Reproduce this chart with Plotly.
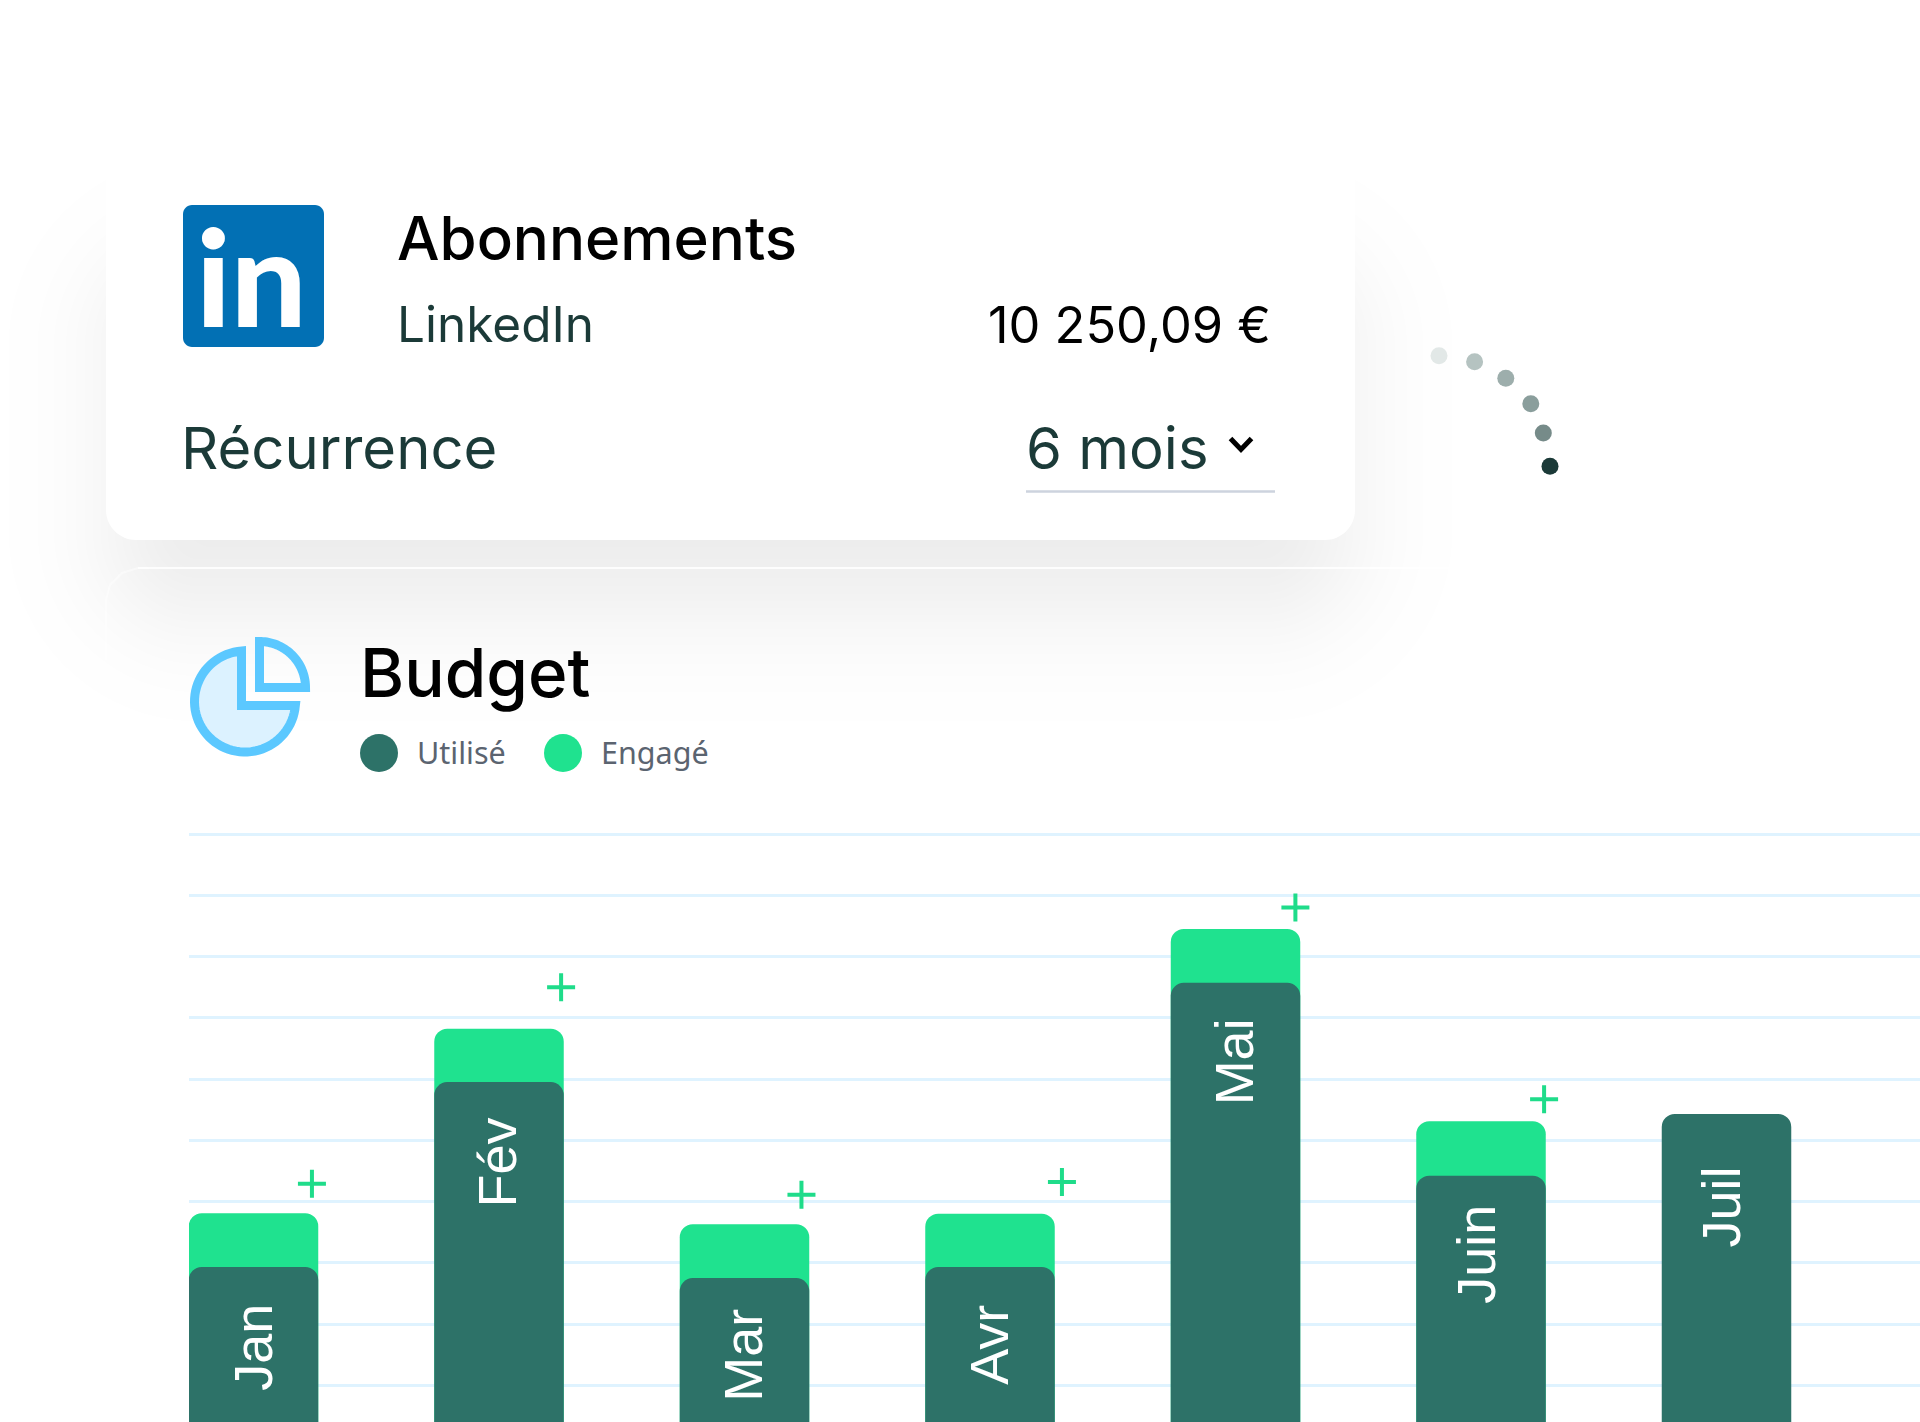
import math
from statistics import NormalDist
import plotly.graph_objects as go

W, H = 1920, 1422

# ---- chart data ----
months = ["Jan", "Fév", "Mar", "Avr", "Mai", "Juin", "Juil"]
month_index = [0, 1, 2, 3, 4, 5, 6]
utilise = [29.3, 59.5, 27.5, 29.3, 75.7, 44.2, 54.3]
engage_total = [38.1, 68.2, 36.3, 38.0, 84.5, 53.1, None]
plus_y = [42.9, 75.0, 41.1, 43.2, 88.0, 56.7]
plus_dx = [0.238, 0.253, 0.232, 0.293, 0.244, 0.257]
label_y = [16.2, 46.3, 14.9, 16.6, 62.8, 31.3, 39.1]
label_shift = [0, -2.5, -1, -1, -2, -5, -5]
legend_labels = ["Utilisé", "Engagé"]
dot_x = [1439, 1474.6, 1505.8, 1530.8, 1543.3, 1550]
dot_y = [355.7, 361.7, 378.3, 403.7, 433, 466.3]
dot_colors = ["#E2E8E7", "#B5C3C1", "#9DAEAC", "#8A9E9C", "#768B89", "#1B3A38"]

DARK, GREEN, GRID, INK = "#2D7268", "#1FE28F", "#DFF3FF", "#1B3A38"


def px(x):
    return x / W


def py(y):
    return 1 - y / H


def rrect(x0, y0, x1, y1, r):
    k = 0.45 * r
    return (
        f"M{px(x0+r)},{py(y0)} L{px(x1-r)},{py(y0)} "
        f"C{px(x1-k)},{py(y0)} {px(x1)},{py(y0+k)} {px(x1)},{py(y0+r)} "
        f"L{px(x1)},{py(y1-r)} "
        f"C{px(x1)},{py(y1-k)} {px(x1-k)},{py(y1)} {px(x1-r)},{py(y1)} "
        f"L{px(x0+r)},{py(y1)} "
        f"C{px(x0+k)},{py(y1)} {px(x0)},{py(y1-k)} {px(x0)},{py(y1-r)} "
        f"L{px(x0)},{py(y0+r)} "
        f"C{px(x0)},{py(y0+k)} {px(x0+k)},{py(y0)} {px(x0+r)},{py(y0)} Z"
    )


def poly(points, close=True):
    s = "M" + " L".join(f"{px(a)},{py(b)}" for a, b in points)
    return s + (" Z" if close else "")


def path(d, fill="rgba(0,0,0,0)", line=None, lw=0, layer="above"):
    return dict(type="path", path=d, xref="paper", yref="paper", fillcolor=fill,
                line=dict(color=line or "rgba(0,0,0,0)", width=lw), layer=layer)


def circle(cx, cy, r, fill):
    return dict(type="circle", xref="paper", yref="paper", x0=px(cx - r), x1=px(cx + r),
                y0=py(cy + r), y1=py(cy - r), fillcolor=fill, line=dict(width=0))


shapes = []
# soft shadow under the top card: stacked faint rounded rectangles
N = 20
nd = NormalDist(0, 56)
for i in range(N):
    d = nd.inv_cdf((N - i - 0.5) / N)
    shapes.append(path(rrect(118 - d, 265 - d, 1343 + d, 612 + d, max(30, 80 + d)),
                       fill="rgba(0,0,0,0.0042)", layer="below"))
# outline of the second card
shapes.append(path(poly([(106, 660), (106, 600), (110, 585), (122, 573), (138, 568)], close=False),
                   line="rgba(255,255,255,0.45)", lw=2, layer="below"))
shapes.append(path(poly([(138, 568), (1450, 568)], close=False),
                   line="rgba(255,255,255,0.85)", lw=2, layer="below"))
# top card
shapes.append(path(rrect(106, 150, 1355, 540, 30), fill="#FFFFFF", layer="below"))
# LinkedIn tile
shapes.append(path(rrect(183, 205, 324, 347, 9), fill="#0270B4"))
# dropdown
shapes.append(path(poly([(1026, 491.5), (1275, 491.5)], close=False), line="#CDD3DE", lw=2.5))
shapes.append(path(poly([(1230.5, 438.5), (1241, 449.5), (1251.5, 438.5)], close=False), line="#000000", lw=5))
# pie icon
cx, cy, r = 245, 701.5, 50.5
big = [(241.5, 705.5), (241.5, cy - math.sqrt(r * r - 3.5 ** 2))]
a0 = math.atan2(big[1][1] - cy, big[1][0] - cx)
a1 = math.atan2(705.5 - cy, math.sqrt(r * r - 16)) - 2 * math.pi
for i in range(1, 60):
    a = a0 + (a1 - a0) * i / 60
    big.append((cx + r * math.cos(a), cy + r * math.sin(a)))
big.append((cx + math.sqrt(r * r - 16), 705.5))
shapes.append(path(poly(big), fill="#DCF2FF", line="#5BC8FF", lw=9))
sx, sy, sr = 259.5, 687.5, 46
small = [(sx, sy), (sx, sy - sr)]
for i in range(1, 40):
    a = -math.pi / 2 + (math.pi / 2) * i / 40
    small.append((sx + sr * math.cos(a), sy + sr * math.sin(a)))
small.append((sx + sr, sy))
shapes.append(path(poly(small), fill="rgba(255,255,255,0.15)", line="#5BC8FF", lw=9))
# legend swatches
shapes.append(circle(379, 753, 19, DARK))
shapes.append(circle(563, 753, 19, GREEN))
# loader dots
for a, b, c in zip(dot_x, dot_y, dot_colors):
    shapes.append(circle(a, b, 8.5, c))


def txt(s, x, y, size, color, font="Inter", weight=400, anchor="left", angle=0):
    return dict(text=s, x=px(x), y=py(y), xref="paper", yref="paper", xanchor=anchor, yanchor="middle",
                showarrow=False, textangle=angle,
                font=dict(family=font, size=size, color=color, weight=weight))


annotations = [
    txt("in", 194, 276, 134, "#FFFFFF", "Lato", 900),
    txt("Abonnements", 395, 238, 60, "#000000", "Inter", 500),
    txt("LinkedIn", 395, 324, 49.5, INK),
    txt("10 250,09 €", 1273, 324, 50.5, "#000000", anchor="right"),
    txt("Récurrence", 179, 448, 58, INK),
    txt("6 mois", 1023.5, 448, 58, INK),
    txt("Budget", 358, 672, 67.3, "#000000", "Inter", 500),
    txt(legend_labels[0], 414.5, 752, 30.5, "#5B6470", "Noto Sans"),
    txt(legend_labels[1], 598.5, 752, 30.5, "#5B6470", "Noto Sans"),
]
for i, m in enumerate(months):
    annotations.append(dict(text=m, x=month_index[i], y=label_y[i], xref="x", yref="y", showarrow=False,
                            xshift=label_shift[i], textangle=-90,
                            font=dict(family="Liberation Sans", size=54, color="#FFFFFF")))

fig = go.Figure()
fig.add_bar(x=month_index, y=engage_total, name=legend_labels[1], width=0.5275,
            marker=dict(color=GREEN, cornerradius=13, line=dict(width=0)))
fig.add_scatter(x=[a + b for a, b in zip(month_index, plus_dx)], y=plus_y, mode="markers",
                marker=dict(symbol="cross-thin", size=20, color=GREEN, line=dict(color="#1FDC8A", width=4)))
fig.add_bar(x=month_index, y=utilise, name=legend_labels[0], width=0.5275, xaxis="x2", yaxis="y2",
            marker=dict(color=DARK, cornerradius=13, line=dict(width=0)))

xr = [(189 - 253.5) / 245.5, (W - 253.5) / 245.5]
yr = [4.0, 102.29]
dom_x, dom_y = [189 / W, 1], [0, (H - 820) / H]
fig.update_layout(
    width=W, height=H, margin=dict(l=0, r=0, t=0, b=0), barmode="overlay", showlegend=False,
    paper_bgcolor="#FFFFFF", plot_bgcolor="rgba(0,0,0,0)", hovermode=False,
    shapes=shapes, annotations=annotations,
    xaxis=dict(domain=dom_x, range=xr, visible=False),
    yaxis=dict(domain=dom_y, range=yr, tick0=0, dtick=10, showgrid=True,
               gridcolor=GRID, gridwidth=2.5, showticklabels=False, zeroline=False, ticks="", showline=False),
    xaxis2=dict(domain=dom_x, range=xr, visible=False, overlaying="x", anchor="y2"),
    yaxis2=dict(domain=dom_y, range=yr, visible=False, overlaying="y", anchor="x2"),
)
fig.write_html("out.html", config=dict(displayModeBar=False),
               post_script="document.body.style.margin='0';document.body.style.overflow='hidden';")
